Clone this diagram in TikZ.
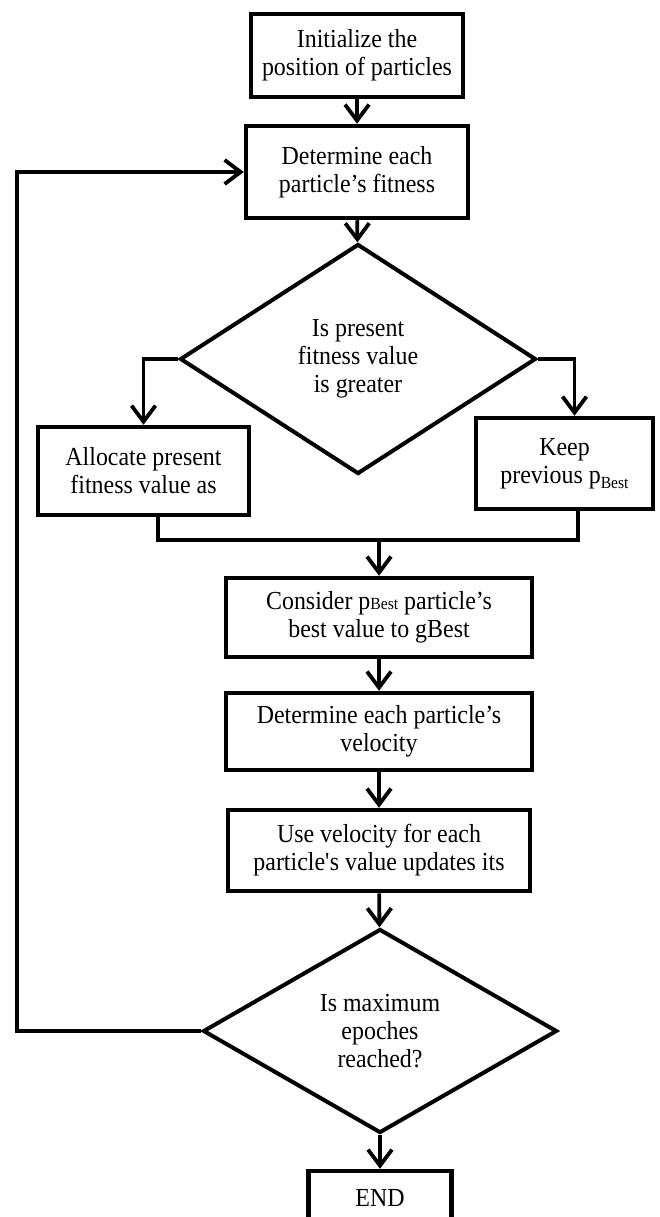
\documentclass[tikz,border=0pt]{standalone}
\usepackage{fontspec}
\setmainfont{Liberation Serif}[FakeStretch=0.92]
\usetikzlibrary{shapes.geometric, arrows.meta}

\begin{document}
\begin{tikzpicture}[x=1pt, y=-1pt, line width=3.8pt,
  >={Straight Barb[length=16pt,width=24pt]},
  every node/.style={font=\fontsize{26}{28}\selectfont, align=center, inner sep=0pt},
  box/.style={draw, rectangle, line width=4.5pt},
  test/.style={draw, diamond, line width=4pt}]
\useasboundingbox (0,0) rectangle (660,1217);
\node[box, minimum width=212pt, minimum height=83pt] (init) at (357,55.5) {Initialize the\\position of particles};
\node[box, minimum width=222pt, minimum height=92pt] (fit) at (357,172) {Determine each\\particle's fitness};
\node[test, minimum width=356pt, minimum height=230pt] (cmp) at (358,359) {Is present\\fitness value\\is greater};
\node[box, minimum width=211pt, minimum height=88pt] (alloc) at (143.5,471) {Allocate present\\fitness value as};
\node[box, minimum width=177pt, minimum height=91pt] (keep) at (564.5,463.5) {Keep\\previous p\raisebox{-5pt}{\fontsize{17}{17}\selectfont Best}};
\node[box, minimum width=306pt, minimum height=79pt] (cons) at (379,617.5) {Consider p{\fontsize{17}{17}\selectfont Best} particle's\\best value to gBest};
\node[box, minimum width=306pt, minimum height=77pt] (vel) at (379,731.5) {Determine each particle's\\velocity};
\node[box, minimum width=302pt, minimum height=81pt] (upd) at (379,850.5) {Use velocity for each\\particle\textquotesingle s value updates its};
\node[test, minimum width=354pt, minimum height=204pt] (stop) at (380,1031) {Is maximum\\epoches\\reached?};
\node[box, minimum width=143pt, minimum height=54pt] (fin) at (380,1198) {END};
\coordinate (join) at (379,540);
\coordinate (back) at (17,1031);
\draw[->] (init) -- (fit);
\draw[->] (fit) -- (cmp);
\draw[->] (cmp.west) -| (alloc.north);
\draw[->] (cmp.east) -| ([xshift=10pt]keep.north);
\draw ([xshift=14.5pt]alloc.south) |- (join) -| ([xshift=13.5pt]keep.south);
\draw[->] (join) -- (cons);
\draw[->] (cons) -- (vel);
\draw[->] (vel) -- (upd);
\draw[->] (upd) -- (stop);
\draw[->] (stop) -- (fin);
\draw[->] (stop.west) -- (back) |- (fit.west);
\end{tikzpicture}
\end{document}
